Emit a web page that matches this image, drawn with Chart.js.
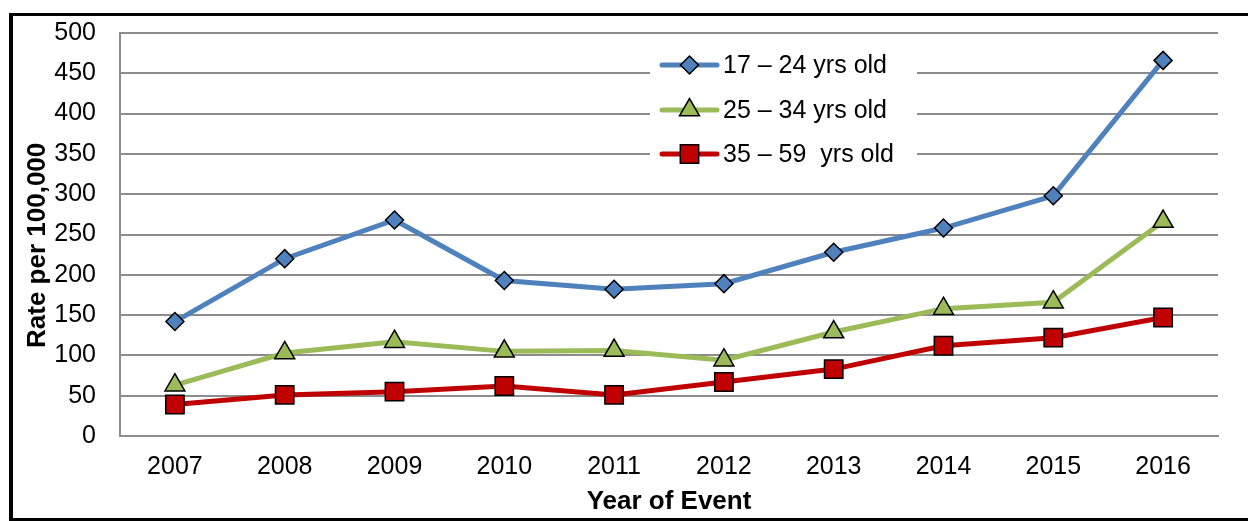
<!DOCTYPE html>
<html>
<head>
<meta charset="utf-8">
<script src="https://cdn.jsdelivr.net/npm/chart.js@4/dist/chart.umd.min.js"></script>
<style>
  html, body { margin: 0; padding: 0; background: #fff; overflow: hidden; width: 1248px; height: 521px; }
  #wrap { position: absolute; left: 0; top: 0; width: 1248px; height: 521px; }
  #frame { position: absolute; left: 9px; top: 13px; width: 1300px; height: 502px;
           border-left: 4px solid #000; border-top: 3px solid #000; border-bottom: 3px solid #000; pointer-events: none; }
  canvas { position: absolute; left: 0; top: 0; }
</style>
</head>
<body>
<div id="wrap">
  <canvas id="c" width="1248" height="521"></canvas>
  <div id="frame"></div>
</div>
<script>
// ---- data ----
const categories = ['2007','2008','2009','2010','2011','2012','2013','2014','2015','2016'];
const rate17to24 = [142, 220, 268, 193, 182, 189, 228, 258, 298, 466];
const rate25to34 = [63, 103, 117, 105, 106, 94, 129, 158, 166, 266];
const rate35to59 = [39, 51, 55, 62, 51, 67, 83, 112, 122, 147];
const seriesLabels = ['17 \u2013 24 yrs old', '25 \u2013 34 yrs old', '35 \u2013 59  yrs old'];
const yMin = 0, yMax = 500, yStep = 50;
const xTitle = 'Year of Event';
const yTitle = 'Rate per 100,000';

const FONT = "'Liberation Sans', Arial, sans-serif";
const BLUE = '#4F81BD', GREEN = '#9BBB59', RED = '#C00000';
const GRID = '#8c8c8c';

function drawMarker(ctx, style, x, y, r, fill) {
  ctx.save();
  ctx.fillStyle = fill;
  ctx.strokeStyle = '#000';
  ctx.lineWidth = 1.5;
  ctx.beginPath();
  if (style === 'rectRot') {
    ctx.moveTo(x - r, y); ctx.lineTo(x, y - r); ctx.lineTo(x + r, y); ctx.lineTo(x, y + r);
  } else if (style === 'triangle') {
    ctx.moveTo(x, y - r);
    ctx.lineTo(x + r * Math.sin(2 * Math.PI / 3), y + r * 0.5);
    ctx.lineTo(x - r * Math.sin(2 * Math.PI / 3), y + r * 0.5);
  } else {
    const s = r * Math.SQRT1_2;
    ctx.rect(x - s, y - s, 2 * s, 2 * s);
  }
  ctx.closePath();
  ctx.fill();
  ctx.stroke();
  ctx.restore();
}

const legendPlugin = {
  id: 'insideLegend',
  beforeDatasetsDraw(chart) {
    const ctx = chart.ctx;
    const a = chart.chartArea;
    const bx = a.left + 530, by = a.top + 8, bw = 267, bh = 138;
    ctx.save();
    ctx.fillStyle = '#fff';
    ctx.fillRect(bx, by, bw, bh);
    ctx.restore();
  },
  afterDatasetsDraw(chart) {
    const ctx = chart.ctx;
    const a = chart.chartArea;
    const x0 = a.left + 542, x1 = a.left + 597, xm = (x0 + x1) / 2, tx = a.left + 603;
    const rowY = [a.top + 32, a.top + 77, a.top + 121];
    chart.data.datasets.forEach((ds, i) => {
      const y = rowY[i];
      ctx.save();
      ctx.strokeStyle = ds.borderColor;
      ctx.lineWidth = ds.borderWidth;
      ctx.lineCap = 'round';
      ctx.beginPath(); ctx.moveTo(x0, y); ctx.lineTo(x1, y); ctx.stroke();
      ctx.restore();
      drawMarker(ctx, ds.pointStyle, xm, y, ds.pointRadius, ds.pointBackgroundColor);
      ctx.save();
      ctx.fillStyle = '#000';
      ctx.font = '25px ' + FONT;
      ctx.textAlign = 'left';
      ctx.textBaseline = 'middle';
      ctx.fillText(ds.label, tx, y + 1);
      ctx.restore();
    });
  }
};

new Chart(document.getElementById('c'), {
  type: 'line',
  data: {
    labels: categories,
    datasets: [
      { label: seriesLabels[0], data: rate17to24, borderColor: BLUE, backgroundColor: BLUE,
        pointBackgroundColor: BLUE, pointBorderColor: '#000', pointBorderWidth: 1.5,
        pointStyle: 'rectRot', pointRadius: 9, borderWidth: 5, tension: 0, order: 2 },
      { label: seriesLabels[1], data: rate25to34, borderColor: GREEN, backgroundColor: GREEN,
        pointBackgroundColor: GREEN, pointBorderColor: '#000', pointBorderWidth: 1.5,
        pointStyle: 'triangle', pointRadius: 11.5, borderWidth: 5, tension: 0, order: 1 },
      { label: seriesLabels[2], data: rate35to59, borderColor: RED, backgroundColor: RED,
        pointBackgroundColor: RED, pointBorderColor: '#000', pointBorderWidth: 1.5,
        pointStyle: 'rect', pointRadius: 13, borderWidth: 5, tension: 0, order: 0 }
    ]
  },
  options: {
    responsive: false,
    animation: false,
    devicePixelRatio: 1,
    layout: { padding: { top: 33, right: 30, left: 0, bottom: 0 } },
    plugins: { legend: { display: false }, tooltip: { enabled: false }, title: { display: false } },
    scales: {
      x: {
        offset: true,
        grid: { display: false, drawTicks: false },
        border: { display: true, color: GRID, width: 2 },
        ticks: { color: '#000', font: { family: FONT, size: 25 }, padding: 16, maxRotation: 0 },
        title: { display: true, text: xTitle, color: '#000',
                 font: { family: FONT, size: 26, weight: 'bold' }, padding: { top: 0, bottom: 4 } },
        afterFit(scale) { scale.height = 85; scale.paddingLeft = 0; scale.paddingRight = 0; }
      },
      y: {
        min: yMin, max: yMax,
        grid: { color: GRID, lineWidth: 2, drawTicks: false },
        border: { display: true, color: GRID, width: 2 },
        ticks: { stepSize: yStep, color: '#000', font: { family: FONT, size: 25 }, padding: 24 },
        title: { display: true, text: yTitle + '\u00a0\u00a0\u00a0', color: '#000',
                 font: { family: FONT, size: 26, weight: 'bold' }, padding: { top: 22, bottom: 0 } },
        afterFit(scale) { scale.width = 120; scale.paddingTop = 0; scale.paddingBottom = 0; }
      }
    }
  },
  plugins: [legendPlugin]
});
</script>
</body>
</html>
